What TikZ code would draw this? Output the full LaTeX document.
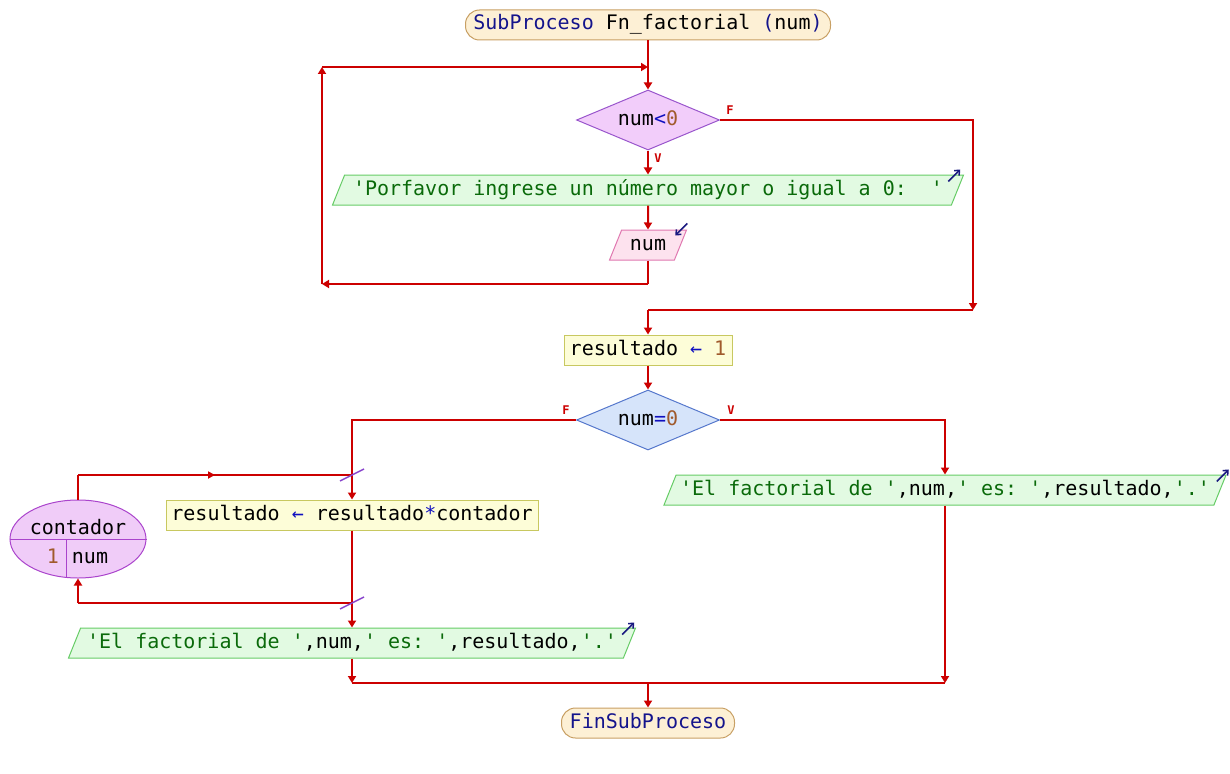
\documentclass[tikz,border=0pt]{standalone}
\usepackage{fontspec}
\setmonofont{DejaVu Sans Mono}
\usetikzlibrary{arrows.meta}
\usetikzlibrary{shapes.geometric}
\usetikzlibrary{decorations.markings}

\definecolor{rojo}{HTML}{CC0000}
\definecolor{clave}{HTML}{14148C}
\definecolor{cadena}{HTML}{0A6A0A}
\definecolor{numero}{HTML}{A05A2C}
\definecolor{operador}{HTML}{1010C0}
\definecolor{termf}{HTML}{FDF0D5}
\definecolor{termb}{HTML}{C8A064}
\definecolor{condvf}{HTML}{F2CDFA}
\definecolor{condvb}{HTML}{9955CC}
\definecolor{condaf}{HTML}{D6E4FA}
\definecolor{condab}{HTML}{5577CC}
\definecolor{procf}{HTML}{FDFDD8}
\definecolor{procb}{HTML}{C8C860}
\definecolor{salf}{HTML}{E2FAE2}
\definecolor{salb}{HTML}{66CC66}
\definecolor{entf}{HTML}{FDE2EE}
\definecolor{entb}{HTML}{E078B0}
\definecolor{lazof}{HTML}{F0CCF8}
\definecolor{lazob}{HTML}{AA44CC}
\definecolor{marcac}{HTML}{8844CC}
\definecolor{iconc}{HTML}{1A1A80}

\newcommand{\kw}[1]{\textcolor{clave}{#1}}
\newcommand{\cad}[1]{\textcolor{cadena}{#1}}
\newcommand{\nro}[1]{\textcolor{numero}{#1}}
\newcommand{\opr}[1]{\textcolor{operador}{#1}}

\tikzset{flecha/.style = {-{Triangle[length=7pt,width=8pt]}}}
\tikzset{medio/.style = {decoration={markings,
                                     mark=at position 0.5 with {\arrow{Triangle[length=7pt,width=7pt]}}},
                         postaction={decorate}}}
\tikzset{flujo/.style = {draw=rojo, line width=2pt}}
\tikzset{caja/.style = {font=\ttfamily\fontsize{20}{24}\selectfont, text height=15pt, text depth=5pt,
                        inner ysep=5pt, inner xsep=4pt, line width=1pt}}
\tikzset{term/.style = {caja, draw=termb, fill=termf, rounded corners=14pt}}
\tikzset{proc/.style = {caja, draw=procb, fill=procf}}
\tikzset{cond/.style = {caja, shape=diamond, aspect=2.4, inner sep=0pt, minimum width=143pt, minimum height=60pt}}
\tikzset{salida/.style = {caja, shape=trapezium, trapezium left angle=68, trapezium right angle=112,
                          trapezium stretches body, draw=salb, fill=salf}}
\tikzset{entrada/.style = {salida, draw=entb, fill=entf}}
\tikzset{lazo/.style = {line width=1pt, shape=ellipse, draw=lazob, fill=lazof,
                        minimum width=136pt, minimum height=78pt}}
\tikzset{texto/.style = {font=\ttfamily\fontsize{20}{24}\selectfont, text height=15pt, text depth=5pt, inner sep=0pt}}
\tikzset{etq/.style = {text=rojo, font=\ttfamily\bfseries\fontsize{12}{14}\selectfont, inner sep=0pt}}
\tikzset{icono/.style = {draw=iconc, line width=1.5pt, -{Straight Barb[length=4pt,width=7pt]}}}
\tikzset{marca/.style = {draw=marcac, line width=1.5pt}}

\begin{document}
\begin{tikzpicture}[x=1pt, y=-1pt]
  \useasboundingbox (0,0) rectangle (1230,773);
  % bloques
  \node [term, minimum width=365pt] (ini) at (648,25) {\kw{SubProceso} Fn\_factorial \kw{(}num\kw{)}};
  \node [cond, draw=condvb, fill=condvf] (mq) at (648,120) {num\opr{<}\nro{0}};
  \node [salida, minimum width=631pt] (msj) at (648,190) {\cad{'Porfavor ingrese un número mayor o igual a 0:\ \ '}};
  \node [entrada, minimum width=77pt] (leer) at (648,245) {num};
  \node [proc, minimum width=168pt] (res1) at (648,350) {resultado \opr{←} \nro{1}};
  \node [cond, draw=condab, fill=condaf] (si) at (648,420) {num\opr{=}\nro{0}};
  \node [proc, minimum width=372pt] (mult) at (352,515) {resultado \opr{←} resultado\opr{*}contador};
  \node [lazo] (para) at (78,539) {};
  \node [texto] (pvar) at (78,529) {contador};
  \node [texto, text=numero] (pini) at (53,558) {1};
  \node [texto] (pfin) at (90,558) {num};
  \node [salida, minimum width=567pt] (escf) at (352,643) {\cad{'El factorial de '},num,\cad{' es: '},resultado,\cad{'.'}};
  \node [salida, minimum width=562pt] (escv) at (945,490) {\cad{'El factorial de '},num,\cad{' es: '},resultado,\cad{'.'}};
  \node [term, minimum width=173pt] (fin) at (648,723) {\kw{FinSubProceso}};
  % puntos de paso
  \coordinate (mqa) at (648,67);
  \coordinate (mqi) at (322,67);
  \coordinate (mqb) at (322,284);
  \coordinate (mqc) at (648,284);
  \coordinate (mqf) at (973,120);
  \coordinate (mqg) at (973,310);
  \coordinate (mqj) at (648,310);
  \coordinate (sif) at (352,420);
  \coordinate (siv) at (945,420);
  \coordinate (pa) at (78,475);
  \coordinate (pb) at (352,475);
  \coordinate (pc) at (352,603);
  \coordinate (pd) at (78,603);
  \coordinate (jl) at (352,683);
  \coordinate (jr) at (945,683);
  \coordinate (jc) at (648,683);
  % mientras
  \draw [flujo, flecha] (ini) -- (mq);
  \draw [flujo, flecha] (mq) -- (msj);
  \draw [flujo, flecha] (msj) -- (leer);
  \draw [flujo] (leer) -- (mqc);
  \draw [flujo, flecha] (mqc) -- (mqb);
  \draw [flujo, flecha] (mqb) -- (mqi);
  \draw [flujo, flecha] (mqi) -- (mqa);
  \draw [flujo, flecha] (mq) -- (mqf) -- (mqg);
  \draw [flujo] (mqg) -- (mqj);
  \draw [flujo, flecha] (mqj) -- (res1);
  \draw [flujo, flecha] (res1) -- (si);
  % si
  \draw [flujo, flecha] (si) -- (siv) -- (escv);
  \draw [flujo, flecha] (si) -- (sif) -- (mult);
  % para
  \draw [flujo] (para) -- (pa);
  \draw [flujo, medio] (pa) -- (pb);
  \draw [flujo, flecha] (mult) -- (escf);
  \draw [flujo] (pc) -- (pd);
  \draw [flujo, flecha] (pd) -- (para);
  \draw [lazob, line width=1pt] (para.west) -- (para.east);
  \draw [lazob, line width=1pt] ([xshift=-12pt]para.center) -- ([xshift=-12pt, yshift=1pt]para.south);
  \draw [marca] ([shift={(-12,6)}]pb) -- ([shift={(12,-6)}]pb);
  \draw [marca] ([shift={(-12,6)}]pc) -- ([shift={(12,-6)}]pc);
  % union
  \draw [flujo, flecha] (escf) -- (jl);
  \draw [flujo, flecha] (escv) -- (jr);
  \draw [flujo] (jl) -- (jr);
  \draw [flujo, flecha] (jc) -- (fin);
  % etiquetas
  \node [etq] (mqF) at (730,110) {F};
  \node [etq] (mqV) at (658,158) {V};
  \node [etq] (siF) at (566,410) {F};
  \node [etq] (siV) at (731,410) {V};
  % iconos
  \draw [icono] ([shift={(-16,7)}]msj.top right corner) -- ++(12,-12);
  \draw [icono] ([shift={(-14,7)}]escf.top right corner) -- ++(12,-12);
  \draw [icono] ([shift={(-10,7)}]escv.top right corner) -- ++(12,-12);
  \draw [icono] ([shift={(0,-6)}]leer.top right corner) -- ++(-12,12);
\end{tikzpicture}
\end{document}
